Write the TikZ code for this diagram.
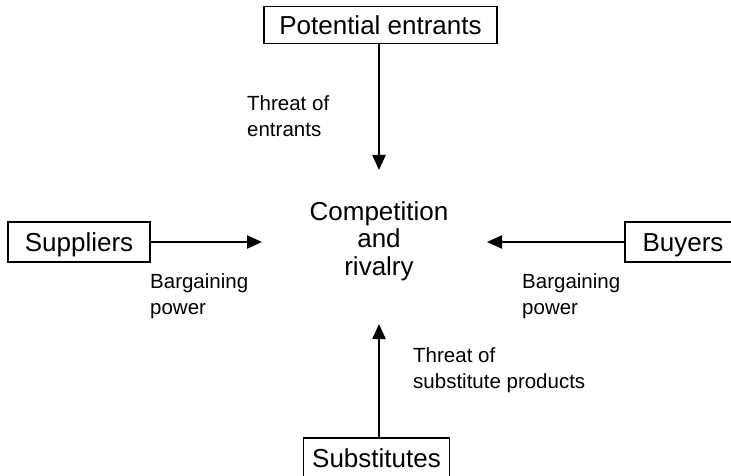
\documentclass[tikz,border=0pt]{standalone}
\usepackage{fontspec}
\setmainfont{Liberation Sans}
\usetikzlibrary{arrows.meta}
\begin{document}
\begin{tikzpicture}[x=1pt,y=-1pt,
  box/.style={draw,line width=1.6pt,inner sep=0pt,text height=19pt,text depth=0pt,font=\fontsize{26}{28}\selectfont},
  lbl/.style={anchor=north west,inner sep=0pt,align=left,font=\fontsize{20.5}{26}\selectfont},
  arr/.style={line width=2.2pt,-{Triangle[length=15pt,width=13pt]}}]
\clip (0,0) rectangle (731,476);
\fill[white] (0,0) rectangle (731,476);
% boxes
\node[box,minimum width=233pt,minimum height=37pt] (pe) at (380.5,25) {Potential entrants};
\node[box,minimum width=142pt,minimum height=40pt] (sup) at (79,242) {Suppliers};
\node[box,minimum width=116pt,minimum height=40pt] (buy) at (683,242) {Buyers};
\node[box,minimum width=146pt,minimum height=40pt] (sub) at (376.5,458) {Substitutes};
% centre
\node[anchor=north,inner sep=0pt,align=center,font=\fontsize{26}{27.5}\selectfont] (comp) at (379,201) {Competition\\and\\rivalry};
% arrow ends
\coordinate (tT) at (379,170);
\coordinate (tL) at (262,242);
\coordinate (tR) at (487,242);
\coordinate (tB) at (379,324);
% arrows
\draw[arr] (tT |- pe.south) -- (tT);
\draw[arr] (sup.east) -- (tL);
\draw[arr] (buy.west) -- (tR);
\draw[arr] (tB |- sub.north) -- (tB);
% labels
\node[lbl] (l1) at (247,95) {Threat of\\entrants};
\node[lbl] (l2) at (150,273) {Bargaining\\power};
\node[lbl] (l3) at (522,273) {Bargaining\\power};
\node[lbl] (l4) at (413,347) {Threat of\\substitute products};
\end{tikzpicture}
\end{document}
